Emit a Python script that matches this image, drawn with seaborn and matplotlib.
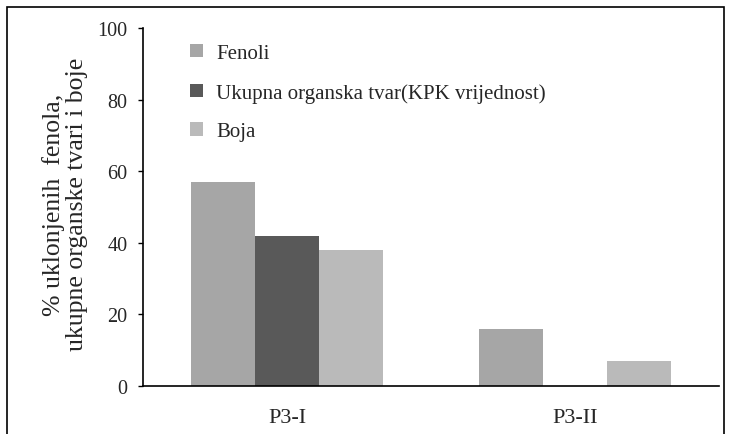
import matplotlib
matplotlib.use("Agg")
import matplotlib.pyplot as plt
from matplotlib.patches import Rectangle, Patch
import seaborn as sns
import pandas as pd

# Removal percentages per treatment
categories = ["P3-I", "P3-II"]
series = ["Fenoli", "Ukupna organska tvar(KPK vrijednost)", "Boja"]
fenoli = [57, 16]
kpk = [42, 0]
boja = [38, 7]
y_ticks = [0, 20, 40, 60, 80, 100]

colors = ["#a6a6a6", "#595959", "#bababa"]

rows = []
for name, vals in zip(series, [fenoli, kpk, boja]):
    for cat, v in zip(categories, vals):
        rows.append({"kategorija": cat, "serija": name, "vrijednost": v})
df = pd.DataFrame(rows)

sns.set_style("white")
plt.rcParams["font.family"] = ["Liberation Serif", "DejaVu Serif"]

W, H = 732, 435
fig = plt.figure(figsize=(W / 100, H / 100), dpi=100)
ax = fig.add_axes([143 / W, 1 - 387 / H, (719 - 143) / W, (387 - 29.3) / H])

sns.barplot(data=df, x="kategorija", y="vrijednost", hue="serija",
            hue_order=series, order=categories, palette=colors,
            width=0.67, gap=0, saturation=1, ax=ax, legend=False,
            edgecolor="none", linewidth=0)

ax.set_xlim(-0.5, 1.5)
ax.set_ylim(0, 100)
ax.set_yticks(y_ticks)
ax.set_yticklabels([str(t) for t in y_ticks], fontsize=14.5)
ax.tick_params(axis="y", direction="out", length=3.6, width=1, color="black",
               left=True, pad=7.5)
ax.tick_params(axis="x", length=0, labelsize=16, pad=16)
ax.set_xlabel("")
ax.set_ylabel("% uklonjenih  fenola,\nukupne organske tvari i boje",
              fontsize=18.5, linespacing=1.05)
ax.yaxis.set_label_coords((88 - 143) / (719 - 143), 0.51)

for side in ["top", "right"]:
    ax.spines[side].set_visible(False)
for side in ["left", "bottom"]:
    ax.spines[side].set_color("black")
    ax.spines[side].set_linewidth(1.2)

handles = [Patch(facecolor=c, edgecolor="none") for c in colors]
fig.legend(handles, series, loc="upper left",
           bbox_to_anchor=(190 / W, 1 - 45 / H), frameon=False,
           fontsize=15, handlelength=0.6, handleheight=0.6,
           handletextpad=0.66, labelspacing=0.95, borderpad=0,
           borderaxespad=0)

# Outer frame of the figure
fig.patches.append(Rectangle((7 / W, -0.1), (724 - 7) / W, 1.1 - 8 / H,
                             transform=fig.transFigure, fill=False,
                             edgecolor="black", linewidth=1.2))

fig.savefig("out.png", dpi=100)
